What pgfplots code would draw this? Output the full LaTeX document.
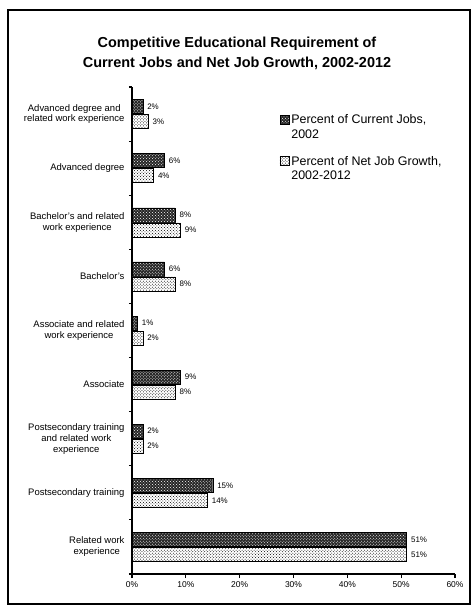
\documentclass[border=0pt]{standalone}
\usepackage{pgfplots}
\pgfplotsset{compat=1.18}
\usetikzlibrary{patterns}
\usepackage{fontspec}
\setmainfont{Liberation Sans}
\pgfplotsset{sqleg/.style={legend image code/.code={%
    \coordinate (lgA) at (0bp,-11.5bp);
    \coordinate (lgB) at (9bp,12bp);
    \draw[##1, line width=0.8pt] (0bp,3bp) rectangle (9bp,12bp);}}}
\begin{document}
\begin{tikzpicture}
\useasboundingbox (0,0) rectangle (474bp,607bp);
\draw[line width=1.6pt] (8bp,3bp) rectangle (470bp,597bp);
\node[font=\bfseries\fontsize{14.5}{20}\selectfont, align=center] at (237bp,554bp)
  {Competitive Educational Requirement of\\Current Jobs and Net Job Growth, 2002-2012};
\begin{axis}[
  at={(132bp,33bp)}, anchor=south west,
  scale only axis, width=323bp, height=487bp,
  xbar, y dir=reverse,
  bar width=14bp,
  xmin=0, xmax=60, ymin=-0.5, ymax=8.5,
  axis lines*=left,
  axis line style={line width=1.8pt},
  xtick={0,10,...,60},
  xticklabel={\pgfmathprintnumber{\tick}\%},
  ytick={0,...,8},
  yticklabels={Advanced degree and\\related work experience, Advanced degree, Bachelor's and related\\work experience, Bachelor's, Associate and related\\work experience, Associate, Postsecondary training\\and related work\\experience, Postsecondary training, Related work\\experience},
  yticklabel style={align=center, font=\fontsize{9.5}{11}\selectfont},
  xticklabel style={font=\fontsize{8.5}{9}\selectfont},
  major y tick style={draw=none},
  minor ytick={-0.5,0.5,...,8.5},
  minor tick length=3bp,
  major tick length=4bp,
  tick align=outside,
  tick style={line width=1.2pt, black},
  /pgf/number format/assume math mode=true,
  nodes near coords={\pgfmathprintnumber{\pgfplotspointmeta}\%},
  nodes near coords style={font=\fontsize{8}{9}\selectfont, xshift=1bp},
  legend style={at={(0.45,0.952)}, anchor=north west, draw=none, fill=none,
    font=\fontsize{12.5}{15}\selectfont, row sep=12bp, cells={align=left},
    inner xsep=2bp},
  legend cell align=left,
]
\addplot[draw=black, fill=black!85, postaction={pattern=crosshatch dots, pattern color=white}, bar shift=7.5bp, sqleg]
  coordinates {(2,0) (6,1) (8,2) (6,3) (1,4) (9,5) (2,6) (15,7) (51,8)};
\addplot[draw=black, fill=white, postaction={pattern=crosshatch dots, pattern color=black}, bar shift=-7.5bp, sqleg]
  coordinates {(3,0) (4,1) (9,2) (8,3) (2,4) (8,5) (2,6) (14,7) (51,8)};
\legend{{Percent of Current Jobs,\\2002}, {Percent of Net Job Growth,\\2002-2012}}
\end{axis}
\end{tikzpicture}
\end{document}
